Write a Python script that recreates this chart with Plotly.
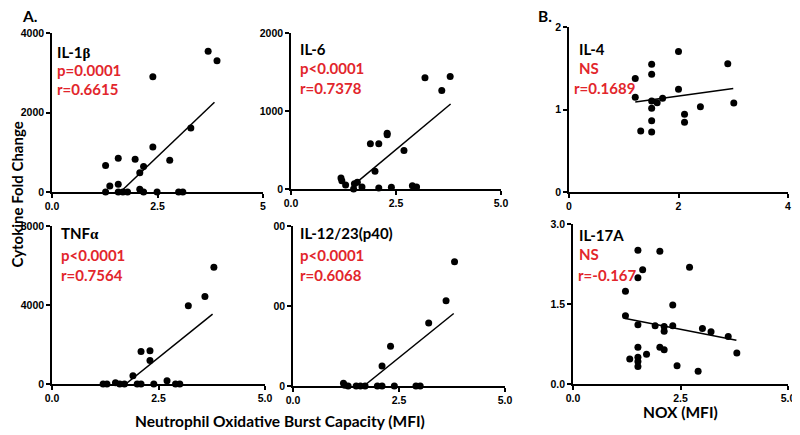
import plotly.graph_objects as go

# The page body has a default 8px margin, so the figure is 8px smaller and all
# reference pixel positions are shifted by 8px.
OFF = 8
W, H = 800 - OFF, 435 - OFF

# ---------------- data ----------------
il1b_x = [1.27, 1.27, 1.37, 1.57, 1.57, 1.57, 1.68, 1.79, 1.97, 2.08, 2.08, 2.17, 2.17, 2.39, 2.39, 2.49, 2.79, 3.0, 3.1, 3.29, 3.70, 3.91]
il1b_y = [664, 0, 151, 849, 193, 0, 0, 0, 824, 487, 67, 639, 0, 2899, 1134, 0, 798, 0, 0, 1613, 3538, 3303]
il1b_fit_x = [1.62, 3.85]
il1b_fit_y = [0, 2260]

il6_x = [1.19, 1.21, 1.30, 1.49, 1.51, 1.58, 1.69, 1.89, 2.0, 2.09, 2.09, 2.29, 2.29, 2.39, 2.69, 2.89, 2.99, 3.19, 3.59, 3.79]
il6_y = [140, 106, 51, 0, 68, 85, 26, 579, 226, 579, 13, 715, 694, 21, 494, 43, 26, 1426, 1264, 1443]
il6_fit_x = [1.6, 3.8]
il6_fit_y = [100, 1090]

tnf_x = [1.20, 1.29, 1.49, 1.59, 1.70, 1.90, 2.0, 2.09, 2.09, 2.30, 2.30, 2.39, 2.70, 2.90, 3.0, 3.20, 3.59, 3.80]
tnf_y = [0, 0, 67, 0, 0, 421, 0, 1650, 0, 1684, 1196, 0, 168, 0, 0, 3958, 4429, 5912]
tnf_fit_x = [1.73, 3.77]
tnf_fit_y = [0, 3537]

il12_x = [1.19, 1.22, 1.30, 1.49, 1.59, 1.70, 1.99, 2.10, 2.10, 2.30, 2.39, 2.90, 3.0, 3.20, 3.61, 3.81]
il12_y = [33, 8, 0, 0, 0, 0, 0, 251, 0, 497, 0, 0, 0, 789, 1065, 1553]
il12_fit_x = [1.67, 3.79]
il12_fit_y = [0, 906]

il4_x = [1.21, 1.21, 1.31, 1.51, 1.51, 1.51, 1.51, 1.51, 1.51, 1.61, 1.71, 2.0, 2.0, 2.11, 2.11, 2.40, 2.90, 3.01]
il4_y = [1.375, 1.148, 0.738, 1.55, 1.428, 1.103, 1.014, 0.864, 0.726, 1.083, 1.136, 1.704, 1.245, 0.941, 0.844, 1.034, 1.554, 1.079]
il4_fit_x = [1.21, 3.0]
il4_fit_y = [1.091, 1.254]

il17_x = [1.22, 1.22, 1.32, 1.51, 1.51, 1.51, 1.51, 1.51, 1.51, 1.51, 1.62, 1.71, 1.91, 2.02, 2.02, 2.12, 2.12, 2.12, 2.32, 2.32, 2.42, 2.71, 2.91, 3.01, 3.21, 3.61, 3.81]
il17_y = [1.74, 1.28, 0.47, 2.51, 1.99, 1.11, 0.69, 0.50, 0.42, 0.33, 2.14, 0.56, 1.09, 2.49, 0.69, 1.08, 0.99, 0.64, 1.48, 1.09, 0.34, 2.19, 0.24, 1.04, 0.98, 0.89, 0.58]
il17_fit_x = [1.22, 3.80]
il17_fit_y = [1.23, 0.82]

panel_names = ["IL-1<span style='font-family:Liberation Serif'>β</span>", "IL-6",
               "TNF<span style='font-family:Liberation Serif'>α</span>", "IL-12/23(p40)", "IL-4", "IL-17A"]
panel_p = ["p=0.0001", "p<0.0001", "p<0.0001", "p<0.0001", "NS", "NS"]
panel_r = ["r=0.6615", "r=0.7378", "r=0.7564", "r=0.6068", "r=0.1689", "r=-0.167"]

# ---------------- layout helpers ----------------
def px(rx):
    return (rx - OFF) / W

def py(ry):
    return 1 - (ry - OFF) / H

def dx(a, b):
    return [px(a), px(b)]

def dy(top, bottom):
    return [py(bottom), py(top)]

panels = [
    (il1b_x, il1b_y, il1b_fit_x, il1b_fit_y, (52, 263), (33, 192), [0, 5], [0, 2.5, 5], ["0.0", "2.5", "5"], [0, 4000], [0, 2000, 4000], ["0", "2000", "4000"]),
    (il6_x, il6_y, il6_fit_x, il6_fit_y, (291, 501), (33, 189), [0, 5], [0, 2.5, 5], ["0.0", "2.5", "5.0"], [0, 2000], [0, 1000, 2000], ["0", "1000", "2000"]),
    (tnf_x, tnf_y, tnf_fit_x, tnf_fit_y, (52, 265), (226, 384), [0, 5], [0, 2.5, 5], ["0.0", "2.5", "5.0"], [0, 8000], [0, 4000, 8000], ["0", "4000", "8000"]),
    (il12_x, il12_y, il12_fit_x, il12_fit_y, (293, 505), (226, 386), [0, 5], [0, 2.5, 5], ["0.0", "2.5", "5.0"], [0, 2000], [0, 1000, 2000], ["0", "00", "00"]),
    (il4_x, il4_y, il4_fit_x, il4_fit_y, (569, 788), (27, 192), [0, 4], [0, 2, 4], ["0", "2", "4"], [0, 2], [0, 1, 2], ["0", "1", "2"]),
    (il17_x, il17_y, il17_fit_x, il17_fit_y, (573, 788), (224, 384), [0, 5], [0, 2.5, 5], ["0.0", "2.5", "5.0"], [0, 3], [0, 1.5, 3], ["0.0", "1.5", "3.0"]),
]

label_pos = [  # (x_left, y_name, y_p, y_r, x_left_r) in reference pixels
    (55, 52, 70, 89, 55),
    (298, 49, 68, 88, 298),
    (59, 233, 255, 275, 59),
    (298, 233, 255, 275, 298),
    (577, 49, 68, 88, 572),
    (577, 235, 254, 275, 576),
]

RED = "#e2262c"
LABEL_FONT = "Lato, Open Sans, sans-serif"
TICK_FONT = "Liberation Sans, Arial, sans-serif"

fig = go.Figure()
layout = dict(
    template="none",
    width=W, height=H, margin=dict(l=0, r=0, t=0, b=0, pad=0), autosize=False,
    paper_bgcolor="white", plot_bgcolor="white", showlegend=False,
)
annotations = []

def ann(text, rx, ry, font, xanchor="left", angle=0):
    return dict(text=text, x=px(rx), y=py(ry), xref="paper", yref="paper",
                xanchor=xanchor, yanchor="middle", textangle=angle, showarrow=False, font=font)

for i, (xs, ys, fx, fy, xd, yd, xr, xt, xtt, yr, yt, ytt) in enumerate(panels):
    n = i + 1
    xa = "x" if n == 1 else f"x{n}"
    ya = "y" if n == 1 else f"y{n}"
    fig.add_trace(go.Scatter(x=xs, y=ys, mode="markers", xaxis=xa, yaxis=ya,
                             marker=dict(color="black", size=7), cliponaxis=False))
    fig.add_trace(go.Scatter(x=fx, y=fy, mode="lines", xaxis=xa, yaxis=ya,
                             line=dict(color="black", width=1.5), cliponaxis=False))
    axcommon = dict(showgrid=False, zeroline=False, showline=True, linecolor="black", linewidth=1.5,
                    ticks="outside", ticklen=4, tickwidth=1.5, tickcolor="black", automargin=False,
                    tickfont=dict(family=TICK_FONT, size=10.5, color="black", weight="bold"))
    layout["xaxis" if n == 1 else f"xaxis{n}"] = dict(
        domain=dx(*xd), range=xr, tickvals=xt, ticktext=xtt, anchor=ya, **axcommon)
    layout["yaxis" if n == 1 else f"yaxis{n}"] = dict(
        domain=dy(*yd), range=yr, tickvals=yt, ticktext=ytt, anchor=xa, **axcommon)

    xl, yn, yp, yrr, xlr = label_pos[i]
    annotations.append(ann(panel_names[i], xl, yn, dict(family=LABEL_FONT, size=15, color="black", weight="bold")))
    annotations.append(ann(panel_p[i], xl, yp, dict(family=LABEL_FONT, size=15, color=RED, weight="bold")))
    annotations.append(ann(panel_r[i], xlr, yrr, dict(family=LABEL_FONT, size=15, color=RED, weight="bold")))

big = dict(family=LABEL_FONT, size=15.5, color="black", weight="bold")
side = dict(family=LABEL_FONT, size=15, color="black", weight="bold")
annotations += [
    ann("A.", 20, 16, big),
    ann("B.", 536, 16, big),
    ann("Cytokine Fold Change", 16.5, 195, side, xanchor="center", angle=-90),
    ann("Neutrophil Oxidative Burst Capacity (MFI)", 280, 421, big, xanchor="center"),
    ann("NOX (MFI)", 680, 412, big, xanchor="center"),
]
layout["annotations"] = annotations
fig.update_layout(**layout)
fig.write_html("out.html")
